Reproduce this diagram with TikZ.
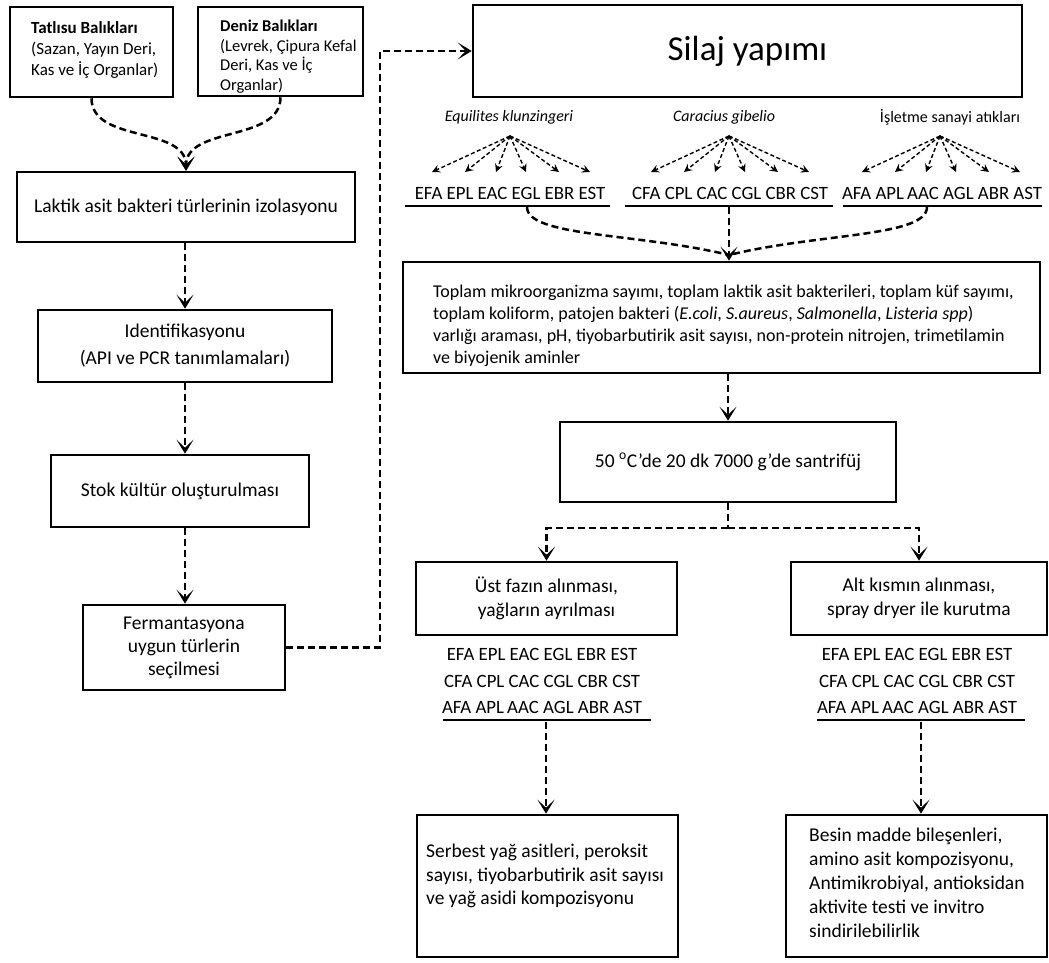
\documentclass[tikz,border=0pt]{standalone}
\usepackage{fontspec}
\setmainfont{Carlito}
\usetikzlibrary{arrows.meta,calc}
\begin{document}
\begin{tikzpicture}[x=1pt,y=-1pt,
  box/.style={draw, line width=2.6pt, inner sep=0pt, align=center, font=\fontsize{19.5}{26}\selectfont},
  txt/.style={inner sep=0pt, align=left},
  flow/.style={line width=2.5pt, dash pattern=on 7pt off 4pt, -{Stealth[length=14pt,width=17pt,inset=8pt]}},
  flowplain/.style={line width=2.5pt, dash pattern=on 7pt off 4pt},
  fan/.style={line width=1.4pt, dash pattern=on 4pt off 2.5pt, -{Stealth[length=8pt,width=8pt,inset=3pt]}},
  uline/.style={line width=2.4pt},
  row/.style={inner sep=0pt, font=\fontsize{18.8}{22}\selectfont},
  lab/.style={inner sep=0pt, font=\fontsize{16}{20}\selectfont\itshape},
]
\fill[white] (0,0) rectangle (1049,963);
\useasboundingbox (0,0) rectangle (1049,963);

% ---- top-left sources
\node[box, minimum width=163pt, minimum height=90pt] (tat) at (91.5,52) {};
\node[txt, anchor=north west, font=\fontsize{17}{21}\selectfont] (tatT) at (31,21) {\textbf{Tatlısu Balıkları}\\(Sazan, Yayın Deri,\\Kas ve İç Organlar)};
\node[box, minimum width=165pt, minimum height=89pt] (den) at (280.5,51.5) {};
\node[txt, anchor=north west, font=\fontsize{16.5}{19.5}\selectfont] (denT) at (220,20) {\textbf{Deniz Balıkları}\\(Levrek, Çipura Kefal\\Deri, Kas ve İç\\Organlar)};

% ---- left column
\node[box, minimum width=338pt, minimum height=70pt] (lak) at (186,207) {Laktik asit bakteri türlerinin izolasyonu};
\node[box, minimum width=294pt, minimum height=72pt, font=\fontsize{19.5}{27}\selectfont] (ide) at (185,346) {Identifikasyonu\\(API ve PCR tanımlamaları)};
\node[box, minimum width=258pt, minimum height=72pt] (stok) at (180,491) {Stok kültür oluşturulması};
\node[box, minimum width=202pt, minimum height=85pt, font=\fontsize{19.5}{23}\selectfont] (ferm) at (184,647.5) {Fermantasyona\\uygun türlerin\\seçilmesi};

\draw[flow] (tat.south) .. controls +(0,45) and +(0,-45) .. (lak.north);
\draw[flow] (den.south) .. controls +(0,45) and +(0,-45) .. (lak.north);
\draw[flow] (ide.north |- lak.south) -- (ide.north);
\draw[flow] (ide.south) -- (ide.south |- stok.north);
\draw[flow] (ide.south |- stok.south) -- (ide.south |- ferm.north);

% ---- silaj
\node[box, minimum width=549pt, minimum height=92pt, font=\fontsize{35}{40}\selectfont] (silaj) at (747.5,51) {Silaj yapımı};
\coordinate (bend) at (380,51);
\draw[flow] (ferm.east) -| (bend) -- (silaj.west);

\node[lab] (equ) at (509,117) {Equilites klunzingeri};
\node[lab] (car) at (724,117) {Caracius gibelio};
\node[lab, font=\fontsize{16}{20}\selectfont\upshape] (isl) at (950,117) {İşletme sanayi atıkları};

\coordinate (equA) at (510,136);
\coordinate (carA) at (729,136);
\coordinate (islA) at (940,136);
\foreach \a in {equA,carA,islA}{
  \foreach \dx in {-78,-45,-14,16,49,80}{
    \draw[fan] (\a) -- ($(\a)+(\dx,36)$);
  }
}

\node[row] (equR) at (510,193) {EFA EPL EAC EGL EBR EST};
\node[row] (carR) at (730,193) {CFA CPL CAC CGL CBR CST};
\node[row] (islR) at (942,193) {AFA APL\,AAC AGL ABR AST};
\draw[uline] (405,206) -- (610,206);
\draw[uline] (625,206) -- (833,206);
\draw[uline] (843,206) -- (1042,206);

% ---- toplam
\node[box, minimum width=637pt, minimum height=111pt] (toplam) at (721.5,317.5) {};
\node[txt, anchor=north west, font=\fontsize{18}{22}\selectfont] (toplamT) at (433,285) {Toplam mikroorganizma sayımı, toplam laktik asit bakterileri, toplam küf sayımı,\\toplam koliform, patojen bakteri (\textit{E.coli}, \textit{S.aureus}, \textit{Salmonella}, \textit{Listeria spp})\\varlığı araması, pH, tiyobarbutirik asit sayısı, non-protein nitrojen, trimetilamin\\ve biyojenik aminler};

\coordinate (equU) at (527,207);
\coordinate (carU) at (729,207);
\coordinate (islU) at (927,207);
\coordinate (conv) at (729,255);
\draw[flowplain] (equU) .. controls +(0,30) and +(-90,-22) .. (conv);
\draw[flowplain] (islU) .. controls +(0,30) and +(90,-22) .. (conv);
\draw[flow] (carU) -- (carU |- toplam.north);

% ---- santrifuj
\node[box, minimum width=336pt, minimum height=80pt] (sant) at (728,462) {50 \textsuperscript{o}C’de 20 dk 7000 g’de santrifüj};
\draw[flow] (sant.north |- toplam.south) -- (sant.north);

\node[box, minimum width=261pt, minimum height=73pt, font=\fontsize{19.5}{24}\selectfont] (ust) at (546.5,598.5) {Üst fazın alınması,\\yağların ayrılması};
\node[box, minimum width=256pt, minimum height=73pt, font=\fontsize{19.5}{24}\selectfont] (alt) at (919,598.5) {Alt kısmın alınması,\\spray dryer ile kurutma};
\coordinate (split) at (728,528);
\draw[flowplain] (sant.south) -- (split);
\draw[flow] (split) -| (ust.north);
\draw[flow] (split) -| (alt.north);

% ---- rows below
\node[row] (ustR1) at (542,654) {EFA EPL EAC EGL EBR EST};
\node[row] (ustR2) at (542,681) {CFA CPL CAC CGL CBR CST};
\node[row] (ustR3) at (542,707) {AFA APL\,AAC AGL ABR AST};
\draw[uline] (443,720) -- (651,720);
\node[row] (altR1) at (917,654) {EFA EPL EAC EGL EBR EST};
\node[row] (altR2) at (917,681) {CFA CPL CAC CGL CBR CST};
\node[row] (altR3) at (917,707) {AFA APL\,AAC AGL ABR AST};
\draw[uline] (817,720) -- (1025,720);

% ---- bottom boxes
\node[box, minimum width=261pt, minimum height=142pt] (serb) at (547.5,886) {};
\node[txt, anchor=north west, font=\fontsize{19.5}{23.5}\selectfont] (serbT) at (426,844) {Serbest yağ asitleri, peroksit\\sayısı, tiyobarbutirik asit sayısı\\ve yağ asidi kompozisyonu};
\node[box, minimum width=261pt, minimum height=142pt] (bes) at (916.5,886) {};
\node[txt, anchor=north west, font=\fontsize{19.5}{24}\selectfont] (besT) at (809,828) {Besin madde bileşenleri,\\amino asit kompozisyonu,\\Antimikrobiyal, antioksidan\\aktivite testi ve invitro\\sindirilebilirlik};

\coordinate (ustU) at (546,722);
\coordinate (altU) at (921,722);
\draw[flow] (ustU) -- (ustU |- serb.north);
\draw[flow] (altU) -- (altU |- bes.north);
\end{tikzpicture}
\end{document}
